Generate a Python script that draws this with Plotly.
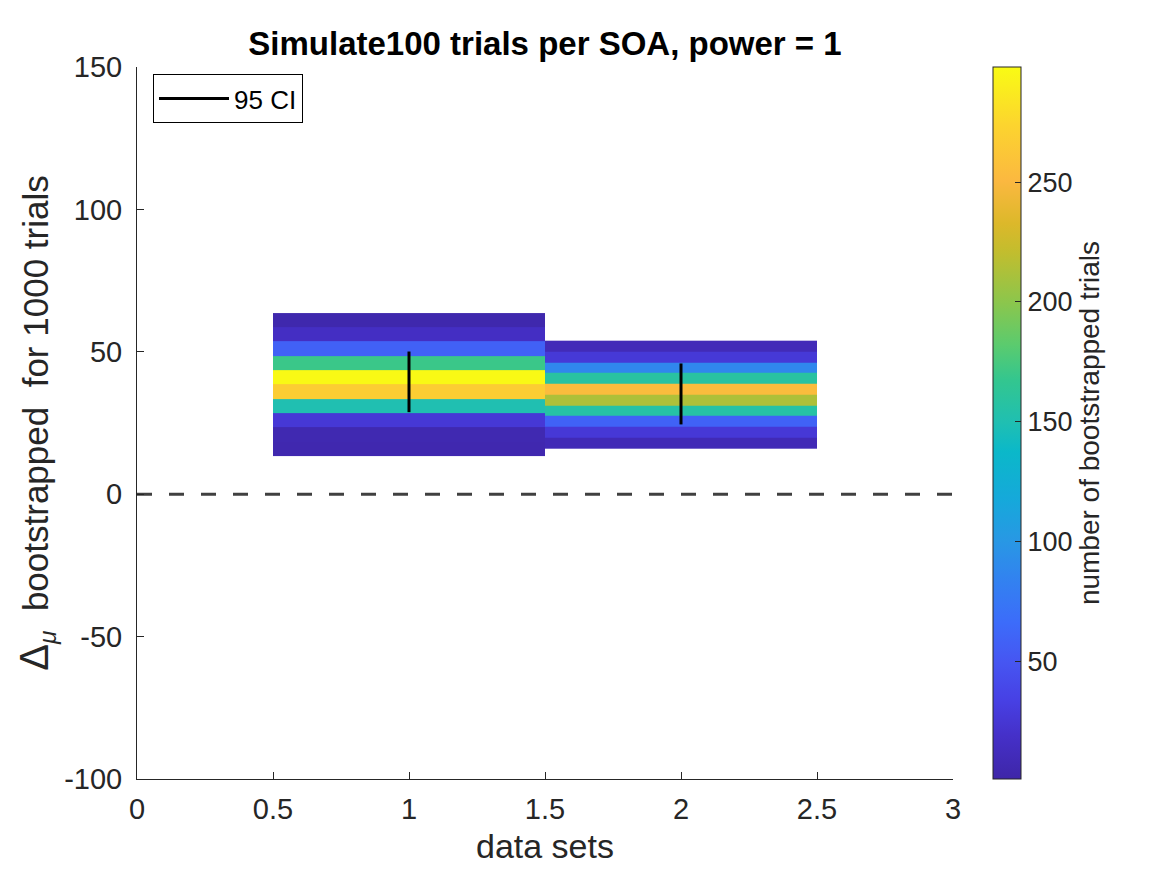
import plotly.graph_objects as go

# bootstrapped delta histograms, one column per data set (bin edges, bottom -> top)
set1_edges = [13.4, 18.4, 23.5, 28.5, 33.5, 38.5, 43.5, 48.5, 53.6, 58.6, 63.6]
set1_counts = [5, 6, 26, 150, 268, 297, 170, 58, 16, 4]
set2_edges = [16.1, 19.9, 23.7, 27.4, 31.2, 35.0, 38.8, 42.5, 46.3, 50.1, 53.9]
set2_counts = [9, 26, 59, 156, 213, 254, 158, 88, 27, 10]

# 95% confidence intervals
ci_x = [1, 2]
ci_low = [28.8, 24.5]
ci_high = [50.1, 45.9]

# axis ticks (MATLAB style hyphen minus)
x_ticks = [0, 0.5, 1, 1.5, 2, 2.5, 3]
x_ticktext = ["0", "0.5", "1", "1.5", "2", "2.5", "3"]
y_ticks = [-100, -50, 0, 50, 100, 150]
y_ticktext = ["-100", "-50", "0", "50", "100", "150"]
cbar_ticks = [50, 100, 150, 200, 250]

# MATLAB parula, sampled from the colorbar
parula = [
    [0.00, "#3e26a8"], [0.06, "#4530c8"], [0.11, "#4740e4"], [0.165, "#4656f2"],
    [0.22, "#3c6cfa"], [0.28, "#3282f0"], [0.335, "#2898e4"], [0.39, "#16a8db"],
    [0.46, "#0bb8c9"], [0.50, "#1fbfb2"], [0.56, "#33c68f"], [0.61, "#5bcb6e"],
    [0.67, "#8cc64c"], [0.74, "#c2bd2e"], [0.78, "#dcb82a"], [0.84, "#fbb840"],
    [0.92, "#fcd52e"], [1.00, "#f9fb14"],
]

ink = "#262626"
font = "Liberation Sans, Arial, Helvetica, sans-serif"

fig = go.Figure()

fig.add_trace(go.Heatmap(
    x=[0.5, 1.5], y=set1_edges, z=[[c] for c in set1_counts],
    coloraxis="coloraxis", hoverinfo="skip",
))
fig.add_trace(go.Heatmap(
    x=[1.5, 2.5], y=set2_edges, z=[[c] for c in set2_counts],
    coloraxis="coloraxis", hoverinfo="skip",
))

# zero reference line
fig.add_trace(go.Scatter(
    x=[0, 3], y=[0, 0], mode="lines", showlegend=False,
    line=dict(color="#404040", width=3, dash="15px,17px"),
))

# CI bars
ci_xs, ci_ys = [], []
for x, lo, hi in zip(ci_x, ci_low, ci_high):
    ci_xs += [x, x, None]
    ci_ys += [lo, hi, None]
fig.add_trace(go.Scatter(
    x=ci_xs, y=ci_ys, mode="lines", name="95 CI",
    line=dict(color="black", width=3),
))

axis_common = dict(
    showline=True, linecolor=ink, linewidth=1, ticks="inside", ticklen=7,
    tickcolor=ink, showgrid=False, zeroline=False, mirror=False,
    tickfont=dict(size=29, color=ink, family=font),
)

# page body has an 8px margin, so the figure is 8px smaller than the window
fig.update_layout(
    width=1159, height=867,
    margin=dict(l=129, r=214, t=59, b=96),
    paper_bgcolor="white", plot_bgcolor="white",
    font=dict(family=font, color=ink),
    title=dict(
        text="<b>Simulate100 trials per SOA, power = 1</b>",
        x=(129 + 945) / 2 / 1159, xanchor="center", y=1 - 35 / 867, yanchor="middle",
        font=dict(size=33, color="black", family=font),
    ),
    xaxis=dict(
        range=[0, 3], tickvals=x_ticks, ticktext=x_ticktext, ticklabelstandoff=4,
        title=dict(text="data sets", font=dict(size=34, color=ink, family=font), standoff=10),
        **axis_common,
    ),
    yaxis=dict(
        range=[-100, 150], tickvals=y_ticks, ticktext=y_ticktext, ticklabelstandoff=8,
        title=dict(
            text="<span style='font-size:40px'>\u0394</span><sub><i>\u03bc</i></sub>"
                 "&nbsp;&nbsp;bootstrapped&nbsp;&nbsp;for 1000 trials",
            font=dict(size=35, color=ink, family=font), standoff=4,
        ),
        **axis_common,
    ),
    coloraxis=dict(
        colorscale=parula, cmin=1, cmax=298,
        colorbar=dict(
            x=1.0368, xanchor="left", y=0.5, yanchor="middle", len=1.0,
            xpad=10, ypad=0,
            thickness=28, outlinecolor=ink, outlinewidth=1,
            ticks="inside", ticklen=6, tickcolor=ink,
            tickvals=cbar_ticks,
            tickfont=dict(size=27, color=ink, family=font),
            title=dict(text="number of bootstrapped trials", side="right",
                       font=dict(size=28, color=ink, family=font)),
        ),
    ),
    legend=dict(
        x=0.0196, y=0.990, xanchor="left", yanchor="top",
        bordercolor="black", borderwidth=1, bgcolor="white",
        itemwidth=70, tracegroupgap=0,
        font=dict(size=26, color="black", family=font),
    ),
)

fig.write_html("out.html")
